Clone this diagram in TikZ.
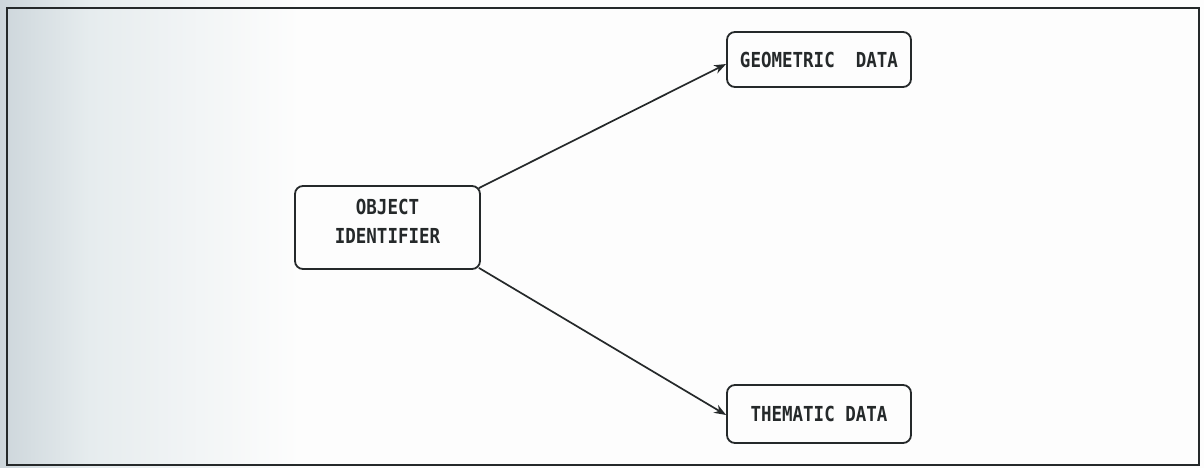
\documentclass[tikz,border=0pt]{standalone}
\usepackage{fontspec}
\newfontfamily\boxfont{DejaVu Sans Mono}
\usetikzlibrary{arrows.meta}
\definecolor{ink}{HTML}{25292A}
\definecolor{paperL}{HTML}{CDD6DB}
\definecolor{paperM}{HTML}{E6ECEE}
\definecolor{paperR}{HTML}{FDFDFD}
\newcommand{\tallcaps}[1]{\scalebox{1}[1.18]{#1}}
\tikzset{
  x=1pt, y=-1pt,
  databox/.style={draw=ink, line width=1.8pt, rounded corners=8pt,
    font=\boxfont\bfseries\fontsize{17.5}{29}\selectfont, text=ink, align=center,
    inner sep=0pt},
  link/.style={draw=ink, line width=1.7pt, -{Stealth[length=12pt,width=9pt]}},
  frame/.style={draw=ink, line width=2pt}
}
\begin{document}
\begin{tikzpicture}
  % paper background with the darker strip on the left
  \useasboundingbox (0,0) rectangle (1204,468);
  \fill[paperR] (0,0) rectangle (1204,468);
  \shade[left color=paperL, right color=paperM] (0,0) rectangle (90,468);
  \shade[left color=paperM, right color=paperR] (90,0) rectangle (300,468);
  % outer frame
  \draw[frame] (7,8) rectangle (1199,465);

  % boxes
  \node[databox, minimum width=185pt, minimum height=83pt, text depth=12pt] (obj) at (387.5,227.5)
    {\tallcaps{OBJECT}\\\tallcaps{IDENTIFIER}};
  \node[databox, minimum width=184pt, minimum height=55pt] (geo) at (819,59.5)
    {\tallcaps{GEOMETRIC\ \ DATA}};
  \node[databox, minimum width=184pt, minimum height=58pt] (thm) at (819,414)
    {\tallcaps{THEMATIC DATA}};

  % connectors from the right-hand corners of the identifier box
  \draw[link] ([xshift=-2pt,yshift=-3pt]obj.north east) -- ([yshift=-4.5pt]geo.west);
  \draw[link] ([xshift=-2pt,yshift=2pt]obj.south east) -- ([yshift=-1pt]thm.west);
\end{tikzpicture}
\end{document}
